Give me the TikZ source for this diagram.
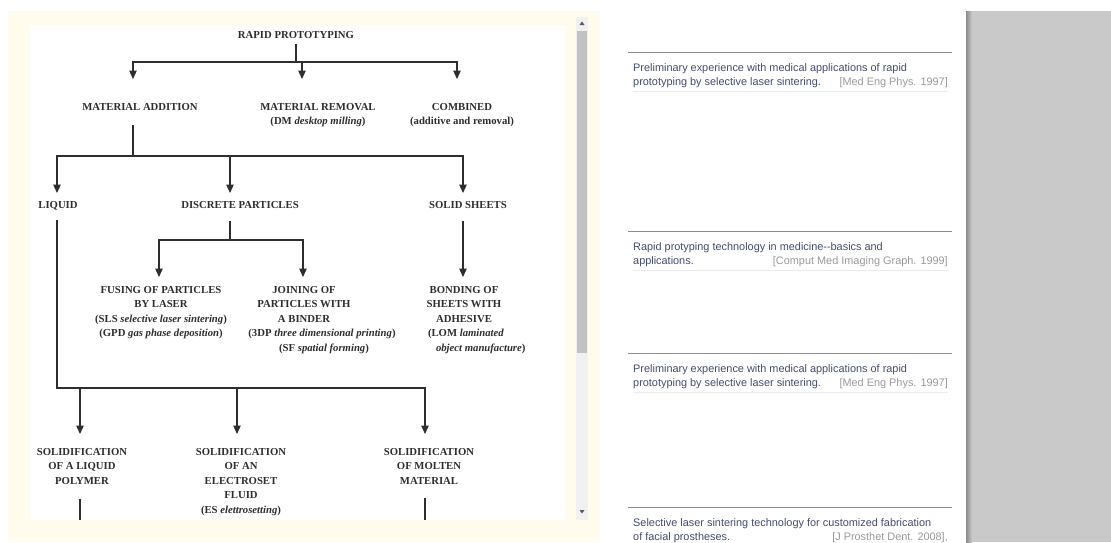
\documentclass[tikz,border=0pt]{standalone}
\usepackage{fontspec}
\setmainfont{Liberation Serif}
\newfontfamily\uifont{Liberation Sans}
\usepackage{xcolor}
\usetikzlibrary{arrows.meta}

\definecolor{cream}{HTML}{FFFCEE}
\definecolor{ink}{HTML}{2E2E2E}
\definecolor{refblue}{HTML}{434D6E}
\definecolor{refgray}{HTML}{9A9A9A}
\definecolor{rulegray}{HTML}{8C8C8C}
\definecolor{panel}{HTML}{C9C9C9}
\definecolor{thumb}{HTML}{C2C2C2}
\definecolor{track}{HTML}{F1F1F1}

\begin{document}
\begin{tikzpicture}[x=1pt, y=-1pt,
    box/.style={inner sep=0pt, anchor=north, align=center, text=ink,
      font=\fontsize{10.7}{14.5}\selectfont\bfseries},
    ln/.style={draw=ink, line width=1.2pt},
    arr/.style={ln, -{Triangle[width=7.5pt,length=8.5pt]}},
    ref/.style={inner sep=0pt, anchor=base west, text=refblue,
      font=\uifont\fontsize{10.9}{14}\selectfont},
    cite/.style={inner sep=0pt, anchor=base east, text=refgray,
      font=\uifont\fontsize{10.9}{14}\selectfont},
    sep/.style={draw=rulegray, line width=0.8pt},
    faint/.style={draw=black!8, line width=0.6pt}]
    \useasboundingbox (0,0) rectangle (1111,542);

    % page, viewer and side panel
    \fill[white] (0,0) rectangle (1111,542);
    \fill[cream] (8,11) rectangle (600,542);
    \fill[white] (30,25) rectangle (565,520);
    \fill[track] (576,17) rectangle (588,520);
    \fill[thumb] (577,31) rectangle (587,353);
    \fill[black!65] (579.5,25) -- (584.5,25) -- (582,21.5) -- cycle;
    \fill[black!65] (579.5,510) -- (584.5,510) -- (582,513.5) -- cycle;
    \fill[panel] (966,11) rectangle (1111,542);
    \shade[left color=black!45, right color=panel] (966,11) rectangle (972,542);

    % tree
    \node[box] (rp) at (296,31) {RAPID PROTOTYPING};
    \node[box] (ma) at (140,103) {MATERIAL ADDITION};
    \node[box] (mr) at (318,103) {MATERIAL REMOVAL\\(DM \textit{desktop milling})};
    \node[box] (co) at (462,103) {COMBINED\\(additive and removal)};

    \node[box] (lq) at (58,201) {LIQUID};
    \node[box] (dp) at (240,201) {DISCRETE PARTICLES};
    \node[box] (ss) at (468,201) {SOLID SHEETS};

    \node[box] (fu) at (161,286) {FUSING OF PARTICLES\\BY LASER\\(SLS \textit{selective laser sintering})\\(GPD \textit{gas phase deposition})};
    \node[box] (jo) at (304,286) {JOINING OF\\PARTICLES WITH\\A BINDER\\\hspace*{36pt}(3DP \textit{three dimensional printing})\\\hspace*{40pt}(SF \textit{spatial forming})};
    \node[box] (bo) at (464,286) {BONDING OF\\SHEETS WITH\\ADHESIVE\\\makebox[72pt][l]{(LOM \textit{laminated}}\\\makebox[72pt][l]{\hspace*{8pt}\textit{object manufacture})}};

    \node[box] (s1) at (82,448) {SOLIDIFICATION\\OF A LIQUID\\POLYMER};
    \node[box] (s2) at (241,448) {SOLIDIFICATION\\OF AN\\ELECTROSET\\FLUID\\(ES \textit{elettrosetting})};
    \node[box] (s3) at (429,448) {SOLIDIFICATION\\OF MOLTEN\\MATERIAL};

    \coordinate (b1) at (296,62);
    \coordinate (b2) at (133,156);
    \coordinate (b3) at (230,240);
    \coordinate (b4) at (57,388);
    \coordinate (ma-in) at (133,79);
    \coordinate (mr-in) at (302,79);
    \coordinate (co-in) at (457,79);
    \coordinate (lq-in) at (57,193);
    \coordinate (dp-in) at (230,193);
    \coordinate (ss-in) at (463,193);
    \coordinate (fu-in) at (159,277);
    \coordinate (jo-in) at (303,277);
    \coordinate (bo-in) at (463,277);
    \coordinate (s1-in) at (80,434);
    \coordinate (s2-in) at (237,434);
    \coordinate (s3-in) at (425,434);
    \coordinate (s1-out) at (80,520);
    \coordinate (s3-out) at (425,520);

    \draw[ln] ([yshift=-5pt]rp.south) -- (b1);
    \draw[arr] (b1) -| (ma-in);
    \draw[arr] (b1 -| mr-in) -- (mr-in);
    \draw[arr] (b1) -| (co-in);

    \draw[ln] ([yshift=-14pt]ma.south -| b2) -- (b2);
    \draw[arr] (b2) -| (lq-in);
    \draw[arr] (b2 -| dp-in) -- (dp-in);
    \draw[arr] (b2) -| (ss-in);

    \draw[ln] ([yshift=-12pt]dp.south -| b3) -- (b3);
    \draw[arr] (b3) -| (fu-in);
    \draw[arr] (b3) -| (jo-in);
    \draw[arr] ([yshift=-12pt]ss.south -| ss-in) -- (bo-in);

    \draw[arr] ([yshift=-10pt]lq.south -| b4) -- (b4) -| (s3-in);
    \draw[arr] (b4 -| s1-in) -- (s1-in);
    \draw[arr] (b4 -| s2-in) -- (s2-in);
    \draw[ln] ([yshift=-14pt]s1.south -| s1-out) -- (s1-out);
    \draw[ln] ([yshift=-14pt]s3.south -| s3-out) -- (s3-out);

    % related articles
    \draw[sep] (628,52) -- (952,52);
    \node[ref] (r1a) at (633,71) {Preliminary experience with medical applications of rapid};
    \node[ref] (r1b) at (633,85) {prototyping by selective laser sintering.};
    \node[cite] (c1) at (948,85) {[Med Eng Phys. 1997]};
    \draw[faint] (633,91) -- (948,91);

    \draw[sep] (628,231) -- (952,231);
    \node[ref] (r2a) at (633,250) {Rapid protyping technology in medicine-{}-basics and};
    \node[ref] (r2b) at (633,264) {applications.};
    \node[cite] (c2) at (948,264) {[Comput Med Imaging Graph. 1999]};
    \draw[faint] (633,270) -- (948,270);

    \draw[sep] (628,353) -- (952,353);
    \node[ref] (r3a) at (633,372) {Preliminary experience with medical applications of rapid};
    \node[ref] (r3b) at (633,386) {prototyping by selective laser sintering.};
    \node[cite] (c3) at (948,386) {[Med Eng Phys. 1997]};
    \draw[faint] (633,392) -- (948,392);

    \draw[sep] (628,507) -- (952,507);
    \node[ref] (r4a) at (633,526) {Selective laser sintering technology for customized fabrication};
    \node[ref] (r4b) at (633,540) {of facial prostheses.};
    \node[cite] (c4) at (948,540) {[J Prosthet Dent. 2008],};
\end{tikzpicture}
\end{document}
